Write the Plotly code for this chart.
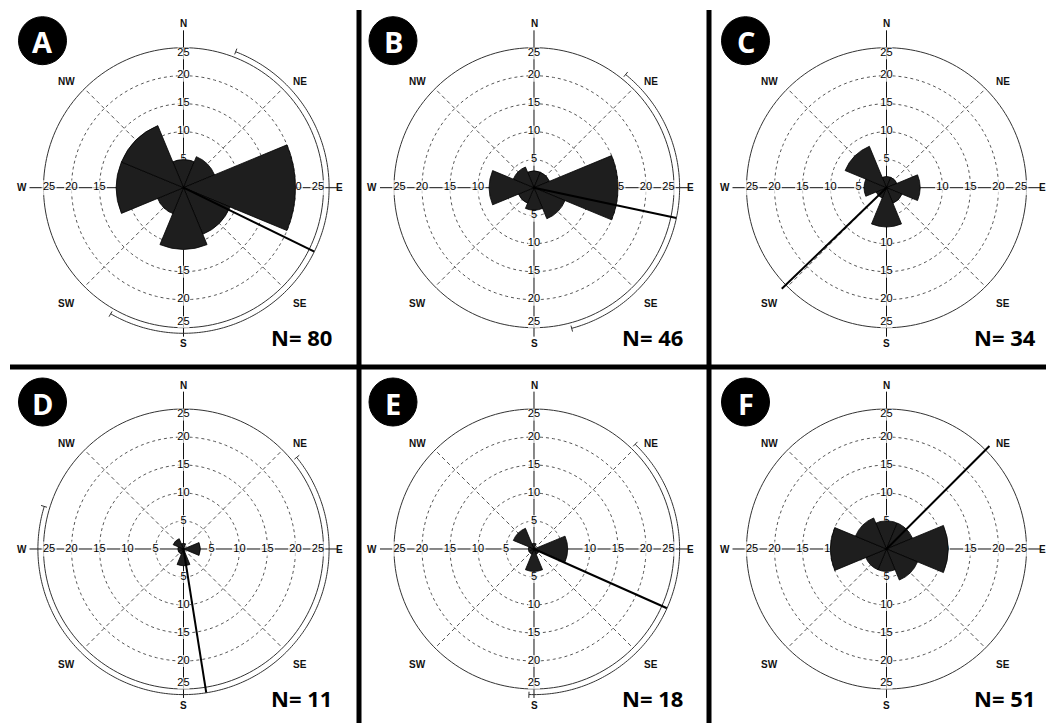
import plotly.graph_objects as go

W, H = 1046, 723

# ---------------- data ----------------
directions = [0, 45, 90, 135, 180, 225, 270, 315]          # N, NE, E, SE, S, SW, W, NW
panel_letters = ["A", "B", "C", "D", "E", "F"]
counts_A = [5, 6, 20, 9, 11, 5, 12, 12]
counts_B = [3, 3, 15, 6, 4, 3, 8, 4]
counts_C = [2, 2, 6, 3, 7, 2, 4, 8]
counts_D = [1, 0, 3, 0, 3, 1, 1, 2]
counts_E = [1, 0, 6, 1, 4, 1, 1, 4]
counts_F = [5, 5, 11, 6, 4, 4, 10, 6]
n_text = ["N= 80", "N= 46", "N= 34", "N= 11", "N= 18", "N= 51"]
mean_dirs = [116, 102, 226, 171, 114, 45]
ci_start = [21, 39, None, 51, 44, None]
ci_end = [210, 165, None, 287, 182, None]

ring_values = [5, 10, 15, 20]
outer_ring = 25
tick_text = ["5", "10", "15", "20", "25"]
tick_label_r = [5, 10, 15, 20, 24]
compass_labels = ["N", "NE", "E", "SE", "S", "SW", "W", "NW"]

counts = [counts_A, counts_B, counts_C, counts_D, counts_E, counts_F]

# ---------------- layout constants ----------------
centers_x = [183.5, 534, 886.5]
centers_y = [187.7, 549]
px_per_unit = 5.6
r_max = 28.4
half = r_max * px_per_unit
line_len = 26
arc_r = 26
# pixel offsets of the compass labels from the rose centre
compass_dx = [0, 116.7, 156, 116.7, 0, -116.7, -162, -116.7]
compass_dy = [-164, -106, 0, 115.6, 156, 115.6, 0, -106]

circle_theta = list(range(0, 361, 2))

fig = go.Figure()
layout_polars = {}
shapes = []
annotations = []

for i in range(6):
    row, col = divmod(i, 3)
    cx, cy = centers_x[col], centers_y[row]
    dx = [(cx - half) / W, (cx + half) / W]
    dy = [(H - cy - half) / H, (H - cy + half) / H]
    base = "polar" if i == 0 else f"polar{i + 1}"
    over = f"polar{i + 7}"
    for key, bg in ((base, "white"), (over, "rgba(0,0,0,0)")):
        layout_polars[key] = dict(
            domain=dict(x=dx, y=dy), bgcolor=bg,
            radialaxis=dict(range=[0, r_max], showline=False, showgrid=False,
                            showticklabels=False, ticks=""),
            angularaxis=dict(direction="clockwise", rotation=90, showline=False,
                             showgrid=False, showticklabels=False, ticks=""),
        )

    # dotted rings
    for rv in ring_values:
        fig.add_trace(go.Scatterpolar(r=[rv] * len(circle_theta), theta=circle_theta,
                                      mode="lines", subplot=base,
                                      line=dict(color="#555", width=1, dash="dot"),
                                      hoverinfo="skip"))
    # outer ring
    fig.add_trace(go.Scatterpolar(r=[outer_ring] * len(circle_theta), theta=circle_theta,
                                  mode="lines", subplot=base,
                                  line=dict(color="#333", width=1), hoverinfo="skip"))
    # diagonal dashed spokes
    sr, st = [], []
    for th in [45, 135, 225, 315]:
        sr += [0, outer_ring, None]
        st += [th, th, None]
    fig.add_trace(go.Scatterpolar(r=sr, theta=st, mode="lines", subplot=base,
                                  line=dict(color="#555", width=1, dash="4px,3px"),
                                  hoverinfo="skip"))
    # main N-S / E-W axes
    fig.add_trace(go.Scatterpolar(r=[28.1, 0, 26.6], theta=[0, 0, 180], mode="lines",
                                  subplot=base, line=dict(color="#111", width=1),
                                  hoverinfo="skip"))
    fig.add_trace(go.Scatterpolar(r=[27.5, 0, 27.5], theta=[90, 90, 270], mode="lines",
                                  subplot=base, line=dict(color="#111", width=1),
                                  hoverinfo="skip"))
    # tick labels with white masks behind them
    for th, sizes in ((0, [12] * 5), (180, [12] * 5),
                      (90, [9, 15, 15, 15, 15]), (270, [9, 15, 15, 15, 15])):
        fig.add_trace(go.Scatterpolar(r=tick_label_r, theta=[th] * 5, mode="markers",
                                      subplot=base,
                                      marker=dict(symbol="square", size=sizes, color="white",
                                                  line=dict(width=0)),
                                      hoverinfo="skip"))
        fig.add_trace(go.Scatterpolar(r=tick_label_r, theta=[th] * 5, text=tick_text,
                                      mode="text", subplot=base,
                                      textfont=dict(family="Liberation Sans", size=11,
                                                    color="#000000"),
                                      hoverinfo="skip"))

    # petals
    fig.add_trace(go.Barpolar(r=counts[i], theta=directions, width=[45] * 8,
                              subplot=over,
                              marker=dict(color="#1e1e1e", line=dict(color="#000", width=0.8)),
                              hoverinfo="skip"))
    # mean direction
    fig.add_trace(go.Scatterpolar(r=[0, line_len], theta=[mean_dirs[i]] * 2, mode="lines",
                                  subplot=over, line=dict(color="#000", width=2),
                                  hoverinfo="skip"))
    # confidence arc
    if ci_start[i] is not None:
        a0, a1 = ci_start[i], ci_end[i]
        th = list(range(a0, a1 + 1))
        fig.add_trace(go.Scatterpolar(r=[arc_r] * len(th), theta=th, mode="lines",
                                      subplot=over, line=dict(color="#333", width=1),
                                      hoverinfo="skip"))
        fig.add_trace(go.Scatterpolar(r=[25.5, 26.6, None, 25.5, 26.6],
                                      theta=[a0, a0, None, a1, a1], mode="lines",
                                      subplot=over, line=dict(color="#333", width=1),
                                      hoverinfo="skip"))

    # compass labels
    for lab, ox, oy in zip(compass_labels, compass_dx, compass_dy):
        annotations.append(dict(x=(cx + ox) / W, y=1 - (cy + oy) / H,
                                xref="paper", yref="paper", text=f"<b>{lab}</b>",
                                showarrow=False, xanchor="center", yanchor="middle",
                                font=dict(family="Liberation Sans", size=10, color="#111")))

    # badge
    bx, by, br = cx - 141, cy - 147, 24
    shapes.append(dict(type="circle", xref="paper", yref="paper",
                       x0=(bx - br) / W, x1=(bx + br) / W,
                       y0=1 - (by + br) / H, y1=1 - (by - br) / H,
                       fillcolor="black", line=dict(color="black", width=1)))
    annotations.append(dict(x=bx / W, y=1 - (by + 1) / H, xref="paper", yref="paper",
                            text=f"<b>{panel_letters[i]}</b>", showarrow=False,
                            xanchor="center", yanchor="middle",
                            font=dict(family="Open Sans", size=29, color="white")))
    annotations.append(dict(x=(cx + 118) / W, y=1 - (cy + 149) / H, xref="paper", yref="paper",
                            text=f"<b>{n_text[i]}</b>", showarrow=False,
                            xanchor="center", yanchor="middle",
                            font=dict(family="Open Sans", size=22, color="black")))

# separators
shapes.append(dict(type="line", xref="paper", yref="paper", x0=359 / W, x1=359 / W,
                   y0=0, y1=1 - 10 / H, line=dict(color="black", width=5)))
shapes.append(dict(type="line", xref="paper", yref="paper", x0=709 / W, x1=709 / W,
                   y0=0, y1=1 - 10 / H, line=dict(color="black", width=5)))
shapes.append(dict(type="line", xref="paper", yref="paper", x0=10 / W, x1=1,
                   y0=1 - 367 / H, y1=1 - 367 / H, line=dict(color="black", width=5)))

fig.update_layout(width=W, height=H, margin=dict(l=0, r=0, t=0, b=0),
                  paper_bgcolor="white", plot_bgcolor="white", showlegend=False,
                  shapes=shapes, annotations=annotations, **layout_polars)

fig.write_html("out.html", config={"responsive": False, "displayModeBar": False},
               post_script="document.body.style.margin='0';document.body.style.padding='0';")
